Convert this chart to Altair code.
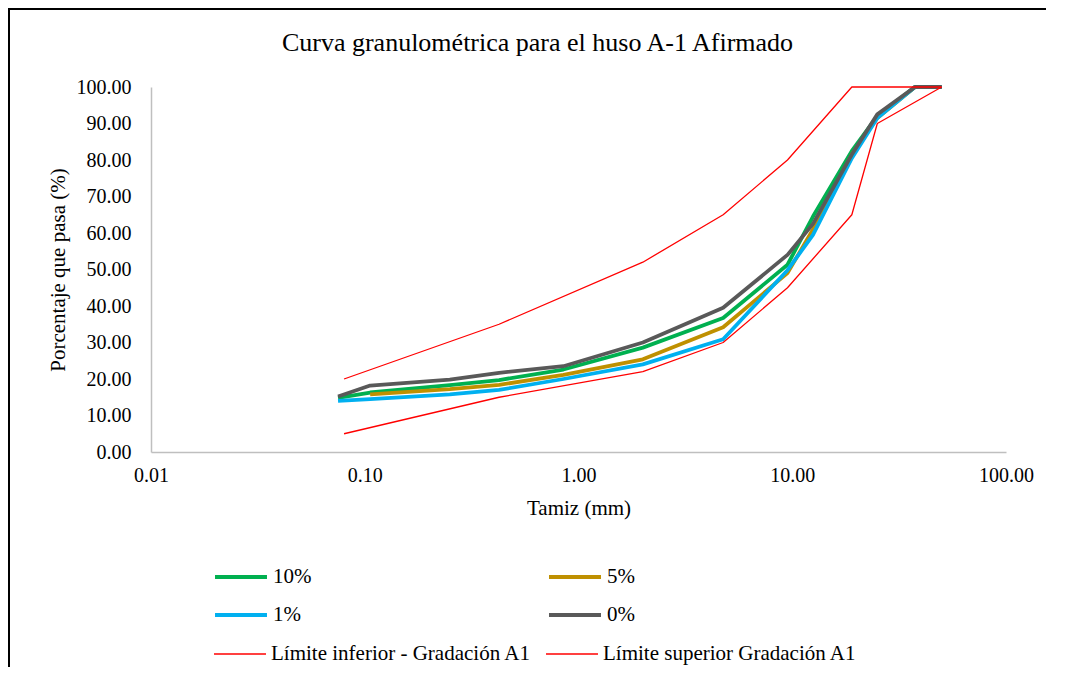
import altair as alt
import pandas as pd

# Sieve openings (mm)
sizes = [0.075, 0.106, 0.25, 0.425, 0.85, 2.0, 4.75, 9.5, 12.5, 19.0, 25.0, 37.5, 50.0]
p10 = [14.8, 16.3, 18.3, 19.7, 22.6, 28.6, 36.7, 51.3, 64.5, 82.5, 92.0, 100.0, 100.0]
p5 = [None, 15.8, 17.2, 18.4, 21.1, 25.4, 34.2, 49.0, 61.0, 81.5, 91.5, 100.0, 100.0]
p1 = [14.0, 14.5, 15.8, 17.0, 20.0, 24.0, 30.9, 49.8, 59.5, 80.5, 91.5, 100.0, 100.0]
p0 = [15.2, 18.2, 19.8, 21.7, 23.5, 30.0, 39.5, 54.0, 62.5, 81.5, 92.5, 100.0, 100.0]

lim_inf_sizes = [0.08, 0.425, 2.0, 4.75, 9.5, 19.0, 25.0, 50.0]
lim_inf = [5.0, 15.0, 22.0, 30.0, 45.0, 65.0, 90.0, 100.0]
lim_sup_sizes = [0.08, 0.425, 2.0, 4.75, 9.5, 19.0, 25.0, 37.5, 50.0]
lim_sup = [20.0, 35.0, 52.0, 65.0, 80.0, 100.0, 100.0, 100.0, 100.0]

serie_names = ["10%", "5%", "1%", "0%"]
serie_colors = ["#00B050", "#BF9000", "#00B0F0", "#595959"]
lim_names = ["Límite inferior - Gradación A1", "Límite superior Gradación A1"]
lim_colors = ["#FF0000", "#FF0000"]

x_ticks = [0.01, 0.1, 1, 10, 100]
y_ticks = [0, 10, 20, 30, 40, 50, 60, 70, 80, 90, 100]


def to_rows(name, xs, ys):
    out = []
    for k, (xv, yv) in enumerate(zip(xs, ys)):
        if yv is not None:
            out.append({"tamiz": xv, "pasa": yv, "serie": name, "k": k})
    return out


rows_s = []
for n, ys in zip(serie_names, [p10, p5, p1, p0]):
    rows_s += to_rows(n, sizes, ys)
rows_l = to_rows(lim_names[0], lim_inf_sizes, lim_inf) + to_rows(lim_names[1], lim_sup_sizes, lim_sup)
df_s = pd.DataFrame(rows_s)
df_l = pd.DataFrame(rows_l)

FONT = "Liberation Serif"

x_enc = alt.X("tamiz:Q",
              scale=alt.Scale(type="log", domain=[0.01, 100]),
              axis=alt.Axis(values=x_ticks, format=".2f", title="Tamiz (mm)",
                            ticks=False, tickSize=0, grid=False, labelPadding=13,
                            titlePadding=12, labelFlush=False, labelOverlap=False))
y_enc = alt.Y("pasa:Q",
              scale=alt.Scale(domain=[0, 100], nice=False),
              axis=alt.Axis(values=y_ticks, format=".2f", title="Porcentaje que pasa (%)",
                            ticks=False, tickSize=0, grid=False, labelPadding=20,
                            titlePadding=8, labelOverlap=False))

leg_common = dict(orient="none", title=None, columns=2, direction="horizontal",
                  symbolType="stroke", symbolSize=2700,
                  labelFont=FONT, labelFontSize=21, labelColor="black", labelLimit=400,
                  labelOffset=4, padding=0)

series_layer = alt.Chart(df_s).mark_line(strokeJoin="round", strokeWidth=3.8).encode(
    x=x_enc, y=y_enc,
    color=alt.Color("serie:N", scale=alt.Scale(domain=serie_names, range=serie_colors),
                    sort=serie_names,
                    legend=alt.Legend(legendX=62, legendY=462, symbolStrokeWidth=3.8,
                                      rowPadding=-13, columnPadding=229, **leg_common)),
    order=alt.Order("k:Q"),
)

limit_layer = alt.Chart(df_l).mark_line(strokeJoin="round", strokeWidth=1.3).encode(
    x=x_enc, y=y_enc,
    color=alt.Color("serie:N", scale=alt.Scale(domain=lim_names, range=lim_colors),
                    sort=lim_names,
                    legend=alt.Legend(legendX=62, legendY=540, symbolStrokeWidth=1.3,
                                      columnPadding=11, **leg_common)),
    order=alt.Order("k:Q"),
)

frame_df = pd.DataFrame({"a": [0]})
frame_left = alt.Chart(frame_df).mark_rule(color="black", strokeWidth=2).encode(
    x=alt.value(-142), y=alt.value(-79), y2=alt.value(590))
frame_top = alt.Chart(frame_df).mark_rule(color="black", strokeWidth=2).encode(
    x=alt.value(-143), x2=alt.value(920), y=alt.value(-78))

chart = alt.layer(series_layer, limit_layer, frame_left, frame_top).resolve_scale(
    color="independent"
).properties(
    width=855, height=365,
    autosize=alt.AutoSizeParams(type="none"),
    padding={"left": 143, "top": 79, "right": 40, "bottom": 215},
    title=alt.TitleParams(
        "Curva granulométrica para el huso A-1 Afirmado",
        font=FONT, fontSize=26, fontWeight="normal", color="black",
        anchor="middle", frame="group", dx=-41, offset=-70, baseline="alphabetic"),
).configure(background="white").configure_axis(
    domainColor="#BFBFBF", domainWidth=1.5,
    labelFont=FONT, labelFontSize=20, labelColor="black",
    titleFont=FONT, titleFontSize=21, titleColor="black", titleFontWeight="normal",
).configure_legend(
    labelFont=FONT, labelFontSize=21, labelColor="black",
).configure_view(stroke=None)

chart.save("out.html", embed_options={"renderer": "svg", "actions": False})
